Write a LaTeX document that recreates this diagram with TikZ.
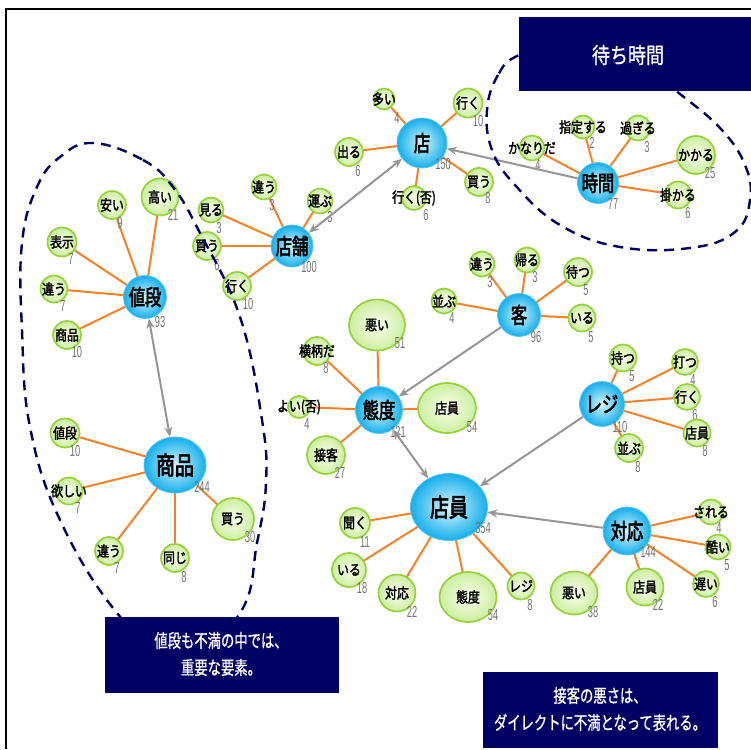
\documentclass[tikz,border=0pt]{standalone}
\usepackage{fontspec}
\usetikzlibrary{arrows.meta,backgrounds,shapes.geometric}
\newfontfamily\jphub[FakeStretch=0.74,FakeBold=2.6]{Noto Sans CJK JP}
\newfontfamily\jpleaf[FakeStretch=0.82,FakeBold=2]{Noto Sans CJK JP}
\newfontfamily\jpbox[FakeStretch=0.72,FakeBold=0.8]{Noto Sans CJK JP}
\newfontfamily\jptitle[FakeStretch=0.82,FakeBold=0.8]{Noto Sans CJK JP}
\newfontfamily\cntf[FakeStretch=0.58]{Liberation Sans}
\definecolor{hubin}{RGB}{215,245,255}
\definecolor{hubout}{RGB}{20,175,235}
\definecolor{hubedge}{RGB}{90,195,240}
\definecolor{leafin}{RGB}{248,255,238}
\definecolor{leafout}{RGB}{205,238,160}
\definecolor{leafedge}{RGB}{150,210,60}
\definecolor{edgeor}{RGB}{245,130,40}
\definecolor{arrgray}{RGB}{150,150,150}
\definecolor{cntgray}{RGB}{115,115,115}
\definecolor{navy}{RGB}{0,0,100}
\tikzset{
  hub/.style={circle, draw=hubedge, line width=0.8pt, inner sep=0pt, shade, shading=radial,
    inner color=hubin, outer color=hubout, minimum size=#1,
    font=\jphub\fontsize{22}{22}\selectfont},
  hubE/.style 2 args={ellipse, draw=hubedge, line width=0.8pt, inner sep=0pt, shade, shading=radial,
    inner color=hubin, outer color=hubout, minimum width=#1, minimum height=#2,
    font=\jphub\fontsize{25.5}{26}\selectfont},
  leaf/.style={circle, draw=leafedge, line width=1.7pt, inner sep=0pt, shade, shading=radial,
    inner color=leafin, outer color=leafout, minimum size=#1,
    font=\jpleaf\fontsize{14.5}{15}\selectfont},
  leafE/.style 2 args={ellipse, draw=leafedge, line width=1.7pt, inner sep=0pt, shade, shading=radial,
    inner color=leafin, outer color=leafout, minimum width=#1, minimum height=#2,
    font=\jpleaf\fontsize{14.5}{15}\selectfont},
  cnt/.style={font=\cntf\fontsize{16}{16}\selectfont, text=cntgray, inner sep=0pt},
  link/.style={draw=edgeor, line width=2pt},
  garrow/.style={draw=arrgray, line width=2pt},
  navybox/.style={fill=navy, draw=navy, inner sep=0pt},
  boxtext/.style={text=white, align=center, inner sep=0pt,
    font=\jpbox\fontsize{18.5}{27}\selectfont},
  grp/.style={draw=navy, line width=2.4pt, dash pattern=on 10pt off 7pt}
}
\newcommand\lf[6]{%
  \node[leaf=#3] (#1) at (#2) {\makebox[0pt]{#4}};
  \node[cnt] (#1n) at (#6) {#5};}
\newcommand\lfe[7]{%
  \node[leafE={#3}{#4}] (#1) at (#2) {\makebox[0pt]{#5}};
  \node[cnt] (#1n) at (#7) {#6};}
\begin{document}
\begin{tikzpicture}[x=1pt,y=-1pt]
\useasboundingbox (0,0) rectangle (751,749);

% hubs
\node[hub=50] (ten) at (422,143) {店};
\node[cnt] (tenn) at (443,164) {150};
\node[hub=42] (tenpo) at (292,246) {店舗};
\node[cnt] (tenpon) at (309,267) {100};
\node[hub=41] (jikan) at (598,183) {時間};
\node[cnt] (jikann) at (613,204) {77};
\node[hub=43] (nedan) at (145,297) {値段};
\node[cnt] (nedann) at (160,322) {93};
\node[hubE={62}{56}] (shohin) at (175,465) {商品};
\node[cnt] (shohinn) at (202,487) {244};
\node[hub=43] (kyaku) at (519,315) {客};
\node[cnt] (kyakun) at (536,337) {96};
\node[hub=47] (taido) at (379,410) {態度};
\node[cnt] (taidon) at (398,432) {121};
\node[hub=45] (reji) at (602,404) {レジ};
\node[cnt] (rejin) at (620,427) {110};
\node[hubE={77}{67}] (tenin) at (449,507) {店員};
\node[cnt] (teninn) at (483,528) {354};
\node[hub=48] (taio) at (627,531) {対応};
\node[cnt] (taion) at (648,552) {144};

% leaves of 店
\lf{a1}{384,99}{21}{多い}{4}{397,118}
\lf{a2}{468,103}{29}{行く}{10}{478,121}
\lf{a3}{349,152}{28}{出る}{6}{358,171}
\lf{a4}{414,198}{24}{行く(否)}{6}{426,215}
\lf{a5}{479,182}{28}{買う}{8}{488,198}
% leaves of 店舗
\lf{b1}{264,187}{25}{違う}{3}{272,205}
\lf{b2}{320,201}{25}{運ぶ}{3}{330,217}
\lf{b3}{211,210}{25}{見る}{3}{219,228}
\lf{b4}{207,246}{28}{買う}{6}{217,265}
\lf{b5}{237,286}{28}{行く}{10}{248,304}
% leaves of 時間
\lf{c1}{532,148}{25}{かなりだ}{4}{538,165}
\lf{c2}{583,127}{23}{指定する}{2}{592,143}
\lf{c3}{638,128}{25}{過ぎる}{3}{647,147}
\lf{c4}{696,155}{38}{かかる}{25}{710,173}
\lf{c5}{678,195}{27}{掛かる}{6}{688,213}
% leaves of 値段
\lf{d1}{112,205}{28}{安い}{9}{120,223}
\lf{d2}{160,197}{37}{高い}{21}{173,215}
\lf{d3}{62,242}{29}{表示}{7}{71,259}
\lf{d4}{54,289}{27}{違う}{7}{63,306}
\lf{d5}{67,335}{28}{商品}{10}{77,352}
% leaves of 商品
\lf{e1}{65,433}{29}{値段}{10}{75,451}
\lf{e2}{69,491}{27}{欲しい}{7}{78,508}
\lf{e3}{109,551}{28}{違う}{7}{117,568}
\lf{e4}{175,558}{28}{同じ}{8}{184,577}
\lf{e5}{233,519}{42}{買う}{30}{250,537}
% leaves of 客
\lf{f1}{444,301}{25}{並ぶ}{4}{452,318}
\lf{f2}{482,264}{25}{違う}{3}{490,282}
\lf{f3}{527,260}{25}{帰る}{3}{535,277}
\lf{f4}{578,272}{28}{待つ}{5}{586,290}
\lf{f5}{582,318}{27}{いる}{5}{591,337}
% leaves of 態度
\lfe{g1}{377,325}{56}{51}{悪い}{51}{400,343}
\lf{g2}{317,351}{28}{横柄だ}{8}{326,368}
\lf{g3}{299,407}{22}{よい(否)}{4}{307,424}
\lfe{g4}{447,408}{58}{50}{店員}{54}{472,427}
\lf{g5}{326,455}{38}{接客}{27}{340,473}
% leaves of レジ
\lf{h1}{623,358}{27}{持つ}{5}{632,376}
\lf{h2}{685,362}{26}{打つ}{4}{693,380}
\lf{h3}{687,397}{26}{行く}{6}{695,415}
\lf{h4}{697,433}{27}{店員}{8}{705,451}
\lf{h5}{629,448}{28}{並ぶ}{8}{638,467}
% leaves of 店員
\lf{i1}{355,523}{30}{聞く}{11}{365,542}
\lf{i2}{349,570}{34}{いる}{18}{362,588}
\lf{i3}{397,593}{37}{対応}{22}{412,612}
\lfe{i4}{468,597}{57}{50}{態度}{54}{493,615}
\lf{i5}{521,586}{27}{レジ}{8}{530,605}
% leaves of 対応
\lfe{j1}{574,593}{47}{43}{悪い}{38}{593,612}
\lf{j2}{645,587}{37}{店員}{22}{658,605}
\lf{j3}{711,512}{25}{される}{4}{719,528}
\lf{j4}{718,547}{25}{酷い}{5}{727,565}
\lf{j5}{706,584}{26}{遅い}{6}{715,602}

% white page and orange links behind the nodes
\begin{scope}[on background layer]
\fill[white] (0,0) rectangle (751,749);
\foreach \h/\l in {ten/a1,ten/a2,ten/a3,ten/a4,ten/a5,
  tenpo/b1,tenpo/b2,tenpo/b3,tenpo/b4,tenpo/b5,
  jikan/c1,jikan/c2,jikan/c3,jikan/c4,jikan/c5,
  nedan/d1,nedan/d2,nedan/d3,nedan/d4,nedan/d5,
  shohin/e1,shohin/e2,shohin/e3,shohin/e4,shohin/e5,
  kyaku/f1,kyaku/f2,kyaku/f3,kyaku/f4,kyaku/f5,
  taido/g1,taido/g2,taido/g3,taido/g4,taido/g5,
  reji/h1,reji/h2,reji/h3,reji/h4,reji/h5,
  tenin/i1,tenin/i2,tenin/i3,tenin/i4,tenin/i5,
  taio/j1,taio/j2,taio/j3,taio/j4,taio/j5}
  \draw[link] (\h.center) -- (\l.center);
\end{scope}
\draw[line width=2pt] (6,749) -- (6,9) -- (751,9);

% gray arrows
\draw[garrow,{Stealth[length=10pt,width=8pt]}-{Stealth[length=10pt,width=8pt]}] (tenpo) -- (ten);
\draw[garrow,-{Stealth[length=10pt,width=8pt]}] (jikan) -- (ten);
\draw[garrow,{Stealth[length=10pt,width=8pt]}-{Stealth[length=10pt,width=8pt]}] (nedan) -- (shohin);
\draw[garrow,-{Stealth[length=10pt,width=8pt]}] (kyaku) -- (taido);
\draw[garrow,{Stealth[length=10pt,width=8pt]}-{Stealth[length=10pt,width=8pt]}] (taido) -- (tenin);
\draw[garrow,-{Stealth[length=10pt,width=8pt]}] (reji) -- (tenin);
\draw[garrow,-{Stealth[length=10pt,width=8pt]}] (taio) -- (tenin);

% dashed groups
\draw[grp] plot[smooth cycle, tension=0.7] coordinates {(93,143) (143,160) (173,187) (200,233) (240,317) (262,420) (266,483) (257,543) (240,613) (178,665) (117,613) (60,520) (30,427) (22,330) (22,243) (37,187) (60,157)};
\draw[grp] plot[smooth cycle, tension=0.7] coordinates {(519,55) (498,75) (487,110) (492,150) (515,185) (560,225) (620,247) (690,248) (735,232) (750,200) (745,165) (720,128) (675,90) (630,55) (570,40)};

% navy boxes
\node[navybox, minimum width=232, minimum height=73] (box1) at (635,53.5) {};
\node[boxtext, font=\jptitle\fontsize{22}{22}\selectfont] (t1) at (628,55) {待ち時間};
\node[navybox, minimum width=233, minimum height=75] (box2) at (221.5,654.5) {};
\node[boxtext] (t2) at (221,654) {値段も不満の中では、\\重要な要素。};
\node[navybox, minimum width=234, minimum height=75] (box3) at (600,709.5) {};
\node[boxtext] (t3) at (600,709) {接客の悪さは、\\ダイレクトに不満となって表れる。};
\end{tikzpicture}
\end{document}
